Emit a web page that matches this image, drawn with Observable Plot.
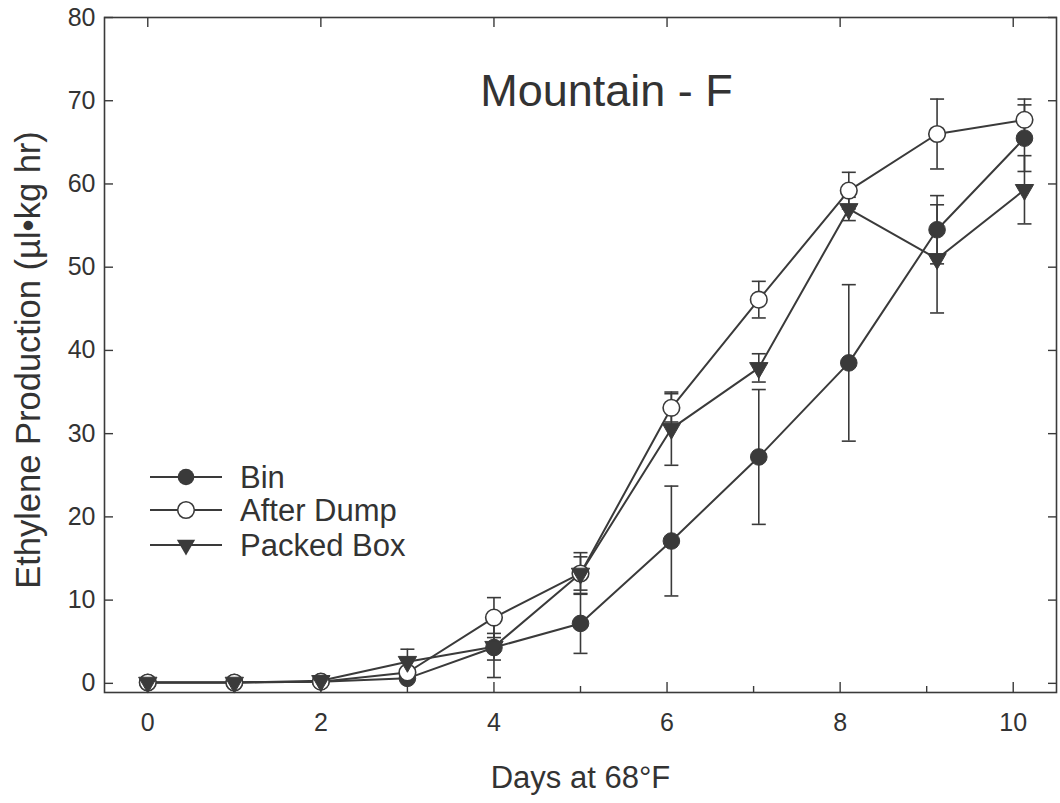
<!DOCTYPE html>
<html><head><meta charset="utf-8">
<script src="https://cdn.jsdelivr.net/npm/d3@7"></script>
<script src="https://cdn.jsdelivr.net/npm/@observablehq/plot@0.6"></script>
<style>
html,body{margin:0;padding:0;background:#fff;}
#chart{position:relative;width:1060px;height:803px;font-family:"Liberation Sans",Arial,Helvetica,sans-serif;}
#chart svg{display:block;}
#legend{position:absolute;left:0;top:0;pointer-events:none;}
</style></head><body><div id="chart"></div>
<script>
// ---- data ----
const days = [0, 1, 2, 3, 4, 5, 6.05, 7.06, 8.1, 9.12, 10.13];
const seriesNames = ["Bin", "After Dump", "Packed Box"];
const binValues    = [0.1, 0.1, 0.2, 0.6, 4.3, 7.2, 17.1, 27.2, 38.5, 54.5, 65.5];
const binErrors    = [0.1, 0.1, 0.1, 0.3, 3.6, 3.6, 6.6, 8.1, 9.4, 4.1, 4.0];
const dumpValues   = [0.1, 0.1, 0.2, 1.3, 7.9, 13.2, 33.1, 46.1, 59.2, 66.0, 67.7];
const dumpErrors   = [0.1, 0.1, 0.1, 0.5, 2.4, 2.0, 1.7, 2.2, 2.2, 4.2, 2.5];
const packValues   = [0.1, 0.1, 0.3, 2.6, 4.4, 13.2, 30.6, 37.9, 57.0, 51.0, 59.3];
const packErrors   = [0.1, 0.1, 0.1, 1.5, 1.6, 2.5, 4.4, 1.7, 1.4, 6.5, 4.1];
const xMajorTicks = [0, 2, 4, 6, 8, 10];
const xMinorTicks = [1, 3, 5, 7, 9];
const yTicks = [0, 10, 20, 30, 40, 50, 60, 70, 80];
const titleText = "Mountain - F";
const xTitle = "Days at 68°F";
const yTitle = "Ethylene Production (µl•kg hr)";

// ---- build table ----
const valueSets = [binValues, dumpValues, packValues];
const errorSets = [binErrors, dumpErrors, packErrors];
const rows = seriesNames.flatMap((s, i) => days.map((d, j) => ({
  series: s, day: d, value: valueSets[i][j], err: errorSets[i][j]
})));
const bySeries = s => rows.filter(r => r.series === s);

const ink = "#3a3a3a";
const textInk = "#333";
const capSymbol = {draw(ctx) { ctx.moveTo(-7, 0); ctx.lineTo(7, 0); }};

const W = 1060, H = 803;
const mL = 104, mR = 4, mT = 17, mB = 111;

const chart = Plot.plot({
  width: W, height: H,
  marginLeft: mL, marginRight: mR, marginTop: mT, marginBottom: mB,
  style: {fontFamily: '"Liberation Sans", Arial, Helvetica, sans-serif', color: textInk, background: "#fff"},
  x: {domain: [-0.5, 10.5]},
  y: {domain: [-1.1, 80]},
  marks: [
    Plot.frame({stroke: ink, strokeWidth: 1.6}),
    // inward ticks
    Plot.axisY(yTicks, {anchor: "left", tickSize: 9, dx: 9, fill: "none", stroke: ink, strokeWidth: 1.4, label: null}),
    Plot.axisY(yTicks, {anchor: "right", tickSize: 9, dx: -9, fill: "none", stroke: ink, strokeWidth: 1.4, label: null}),
    Plot.axisX(xMajorTicks, {anchor: "bottom", tickSize: 10, dy: -10, fill: "none", stroke: ink, strokeWidth: 1.4, label: null}),
    Plot.axisX(xMinorTicks, {anchor: "bottom", tickSize: 6, dy: -6, fill: "none", stroke: ink, strokeWidth: 1.4, label: null}),
    Plot.axisX(xMajorTicks, {anchor: "top", tickSize: 9, dy: 9, fill: "none", stroke: ink, strokeWidth: 1.4, label: null}),
    // tick labels
    Plot.axisY(yTicks, {anchor: "left", tickSize: 0, tickPadding: 9, fontSize: 25, fill: textInk, label: null}),
    Plot.axisX(xMajorTicks, {anchor: "bottom", tickSize: 0, tickPadding: 21, fontSize: 25, fill: textInk, label: null}),
    // titles
    Plot.text([titleText], {text: d => d, frameAnchor: "top", dx: 26, dy: 74, fontSize: 45, lineAnchor: "middle", fill: textInk}),
    Plot.text([xTitle], {text: d => d, frameAnchor: "bottom", dy: 86, fontSize: 31, lineAnchor: "middle", fill: textInk}),
    Plot.text([yTitle], {text: d => d, frameAnchor: "left", textAnchor: "middle", dx: -76, dy: 5, rotate: -90, fontSize: 34.5, lineAnchor: "middle", fill: textInk}),
    // series lines
    Plot.line(rows, {x: "day", y: "value", z: "series", stroke: ink, strokeWidth: 2}),
    // error bars
    Plot.ruleX(rows, {x: "day", y1: d => d.value - d.err, y2: d => d.value + d.err, stroke: ink, strokeWidth: 1.6}),
    Plot.dot(rows, {x: "day", y: d => d.value + d.err, symbol: capSymbol, r: 7, stroke: ink, fill: "none", strokeWidth: 1.6}),
    Plot.dot(rows, {x: "day", y: d => d.value - d.err, symbol: capSymbol, r: 7, stroke: ink, fill: "none", strokeWidth: 1.6}),
    // markers
    Plot.dot(bySeries("Bin"), {x: "day", y: "value", r: 8.3, fill: ink, stroke: ink, strokeWidth: 1}),
    Plot.dot(bySeries("After Dump"), {x: "day", y: "value", r: 8.3, fill: "#fff", stroke: ink, strokeWidth: 1.6}),
    Plot.dot(bySeries("Packed Box"), {x: "day", y: "value", symbol: "triangle", rotate: 180, r: 6.8, fill: ink, stroke: ink, strokeWidth: 1})
  ]
});
document.getElementById("chart").appendChild(chart);

// ---- legend (inside the frame, upper-left of the lower area) ----
const legend = d3.select("#chart").append("svg")
  .attr("id", "legend").attr("width", W).attr("height", H);
const legendRows = [477, 510, 545];
seriesNames.forEach((name, i) => {
  const g = legend.append("g").attr("transform", `translate(0,${legendRows[i]})`);
  g.append("line").attr("x1", 150).attr("x2", 222).attr("y1", 0).attr("y2", 0)
    .attr("stroke", ink).attr("stroke-width", 2);
  if (i === 0) g.append("circle").attr("cx", 186).attr("cy", 0).attr("r", 8.3).attr("fill", ink);
  if (i === 1) g.append("circle").attr("cx", 186).attr("cy", 0).attr("r", 8.3).attr("fill", "#fff").attr("stroke", ink).attr("stroke-width", 1.6);
  if (i === 2) g.append("path").attr("transform", "translate(186,0) rotate(180)")
    .attr("d", d3.symbol(d3.symbolTriangle, Math.PI * 6.8 * 6.8)()).attr("fill", ink);
  g.append("text").attr("x", 240).attr("y", 0).attr("dy", "0.35em")
    .attr("font-size", 31).attr("fill", textInk)
    .attr("font-family", '"Liberation Sans", Arial, Helvetica, sans-serif').text(name);
});
</script>
</body></html>
